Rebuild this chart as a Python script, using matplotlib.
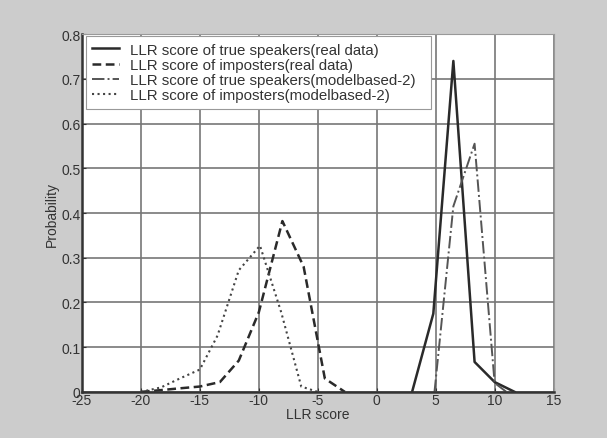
import matplotlib
matplotlib.use("Agg")
import matplotlib.pyplot as plt

plt.rcParams["font.family"] = ["Liberation Sans", "DejaVu Sans"]
plt.rcParams["axes.unicode_minus"] = False

# LLR score of true speakers (real data)
true_real_x = [3.0, 4.8, 6.5, 8.3, 10.0, 11.7]
true_real_y = [0.0, 0.175, 0.74, 0.067, 0.022, 0.0]

# LLR score of imposters (real data)
imp_real_x = [-20.0, -18.3, -16.7, -15.0, -13.3, -11.7, -10.0, -8.0, -6.2, -4.4, -2.7]
imp_real_y = [0.0, 0.004, 0.008, 0.012, 0.022, 0.07, 0.178, 0.382, 0.28, 0.03, 0.0]

# LLR score of true speakers (modelbased-2)
true_model_x = [4.9, 6.5, 8.3, 10.0, 11.0]
true_model_y = [0.0, 0.415, 0.555, 0.02, 0.0]

# LLR score of imposters (modelbased-2)
imp_model_x = [-20.0, -18.3, -16.7, -15.0, -13.5, -11.7, -9.9, -8.1, -6.4, -5.0]
imp_model_y = [0.0, 0.01, 0.03, 0.05, 0.126, 0.272, 0.327, 0.178, 0.012, 0.0]

labels = [
    "LLR score of true speakers(real data)",
    "LLR score of imposters(real data)",
    "LLR score of true speakers(modelbased-2)",
    "LLR score of imposters(modelbased-2)",
]

fig = plt.figure(figsize=(6.07, 4.39), dpi=100, facecolor="#cccccc")
ax = fig.add_axes([0.135, 0.105, 0.777, 0.815])
ax.set_facecolor("white")

col = "#2a2a2a"
ax.plot(true_real_x, true_real_y, "-", color=col, lw=1.8, label=labels[0])
ax.plot(imp_real_x, imp_real_y, "--", color=col, lw=1.8, dashes=(3.5, 1.8), label=labels[1])
ax.plot(true_model_x, true_model_y, "-.", color="#555555", lw=1.4, label=labels[2])
ax.plot(imp_model_x, imp_model_y, ":", color="#444444", lw=1.5, label=labels[3])

ax.set_xlim(-25, 15)
ax.set_ylim(0, 0.8)
ax.set_xticks(range(-25, 16, 5))
ax.set_yticks([0, 0.1, 0.2, 0.3, 0.4, 0.5, 0.6, 0.7, 0.8])
ax.set_yticklabels(["0", "0.1", "0.2", "0.3", "0.4", "0.5", "0.6", "0.7", "0.8"])
ax.grid(True, color="#777777", lw=1.2)
ax.set_axisbelow(True)
ax.tick_params(direction="in", length=3, labelsize=10, pad=1, colors="#333333")
for side in ["left", "bottom"]:
    ax.spines[side].set_linewidth(1.8)
    ax.spines[side].set_color("#333333")
for side in ["top", "right"]:
    ax.spines[side].set_color("#999999")

ax.set_xlabel("LLR score", fontsize=10, labelpad=0, color="#333333")
ax.set_ylabel("Probability", fontsize=10, labelpad=2, color="#333333")

# MATLAB-style legend box: wider than its text
leg = ax.legend(loc="upper left", bbox_to_anchor=(0.008, 0.995, 0.733, 0.0), mode="expand",
                fontsize=10.8, handlelength=1.8, handletextpad=0.7,
                borderaxespad=0.0, borderpad=0.45, labelspacing=0.08, fancybox=False,
                framealpha=1.0, edgecolor="#999999")
leg.get_frame().set_linewidth(0.8)
for t in leg.get_texts():
    t.set_color("#333333")

fig.savefig("out.png", dpi=100, facecolor=fig.get_facecolor())
